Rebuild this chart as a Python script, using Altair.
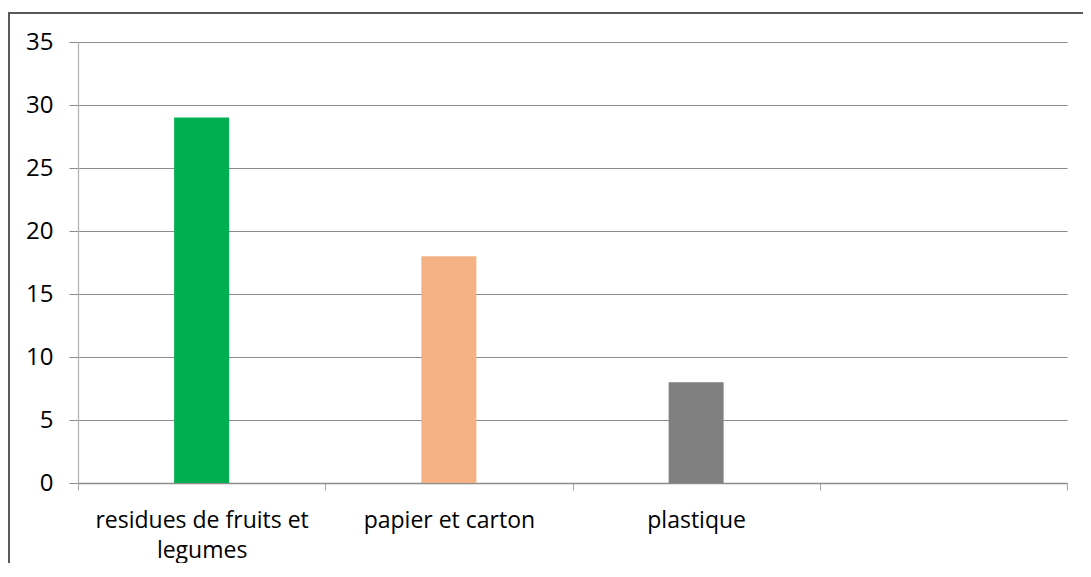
import altair as alt
import pandas as pd

categories = ["residues de fruits et legumes", "papier et carton", "plastique"]
values = [29, 18, 8]
colors = ["#00B050", "#F4B183", "#808080"]
domain = categories + [" "]
y_ticks = [0, 5, 10, 15, 20, 25, 30, 35]

df = pd.DataFrame({"cat": categories, "val": values, "color": colors})

FONT = "Open Sans"

bars = alt.Chart(df).mark_bar(size=55).encode(
    x=alt.X(
        "cat:N",
        sort=None,
        scale=alt.Scale(domain=domain, paddingInner=0, paddingOuter=0),
        axis=alt.Axis(
            title=None,
            labelAngle=0,
            tickBand="extent",
            labelExpr="datum.label == 'residues de fruits et legumes' ? ['residues de fruits et', 'legumes'] : datum.label",
            labelLimit=400,
            labelOverlap=False,
            labelFont=FONT,
            labelFontSize=23,
            labelColor="#000000",
            labelLineHeight=30,
            labelPadding=19,
            labelBaseline="top",
            tickSize=7,
            tickColor="#a6a6a6",
            domainColor="#8c8c8c",
            domainWidth=1.3,
            grid=False,
        ),
    ),
    y=alt.Y(
        "val:Q",
        scale=alt.Scale(domain=[0, 35], nice=False, zero=True),
        axis=alt.Axis(
            title=None,
            values=y_ticks,
            labelFont=FONT,
            labelFontSize=24,
            labelColor="#000000",
            labelPadding=16,
            tickSize=9,
            tickColor="#8c8c8c",
            domainColor="#b4b4b4",
            domainWidth=1.3,
            gridColor="#8c8c8c",
            gridWidth=1.2,
        ),
    ),
    color=alt.Color("color:N", scale=None),
)

frame = alt.Chart(pd.DataFrame({"f": [0]})).mark_rect(
    fillOpacity=0, stroke="#595959", strokeWidth=2
).encode(
    x=alt.value(-69), x2=alt.value(1100), y=alt.value(-29), y2=alt.value(700)
)

chart = alt.layer(frame, bars).properties(
    width=989,
    height=441,
    padding={"left": 70, "top": 34, "right": 16, "bottom": 80},
    autosize="none",
).configure_view(stroke=None)

chart.save("out.html", embed_options={"renderer": "svg", "actions": False})
